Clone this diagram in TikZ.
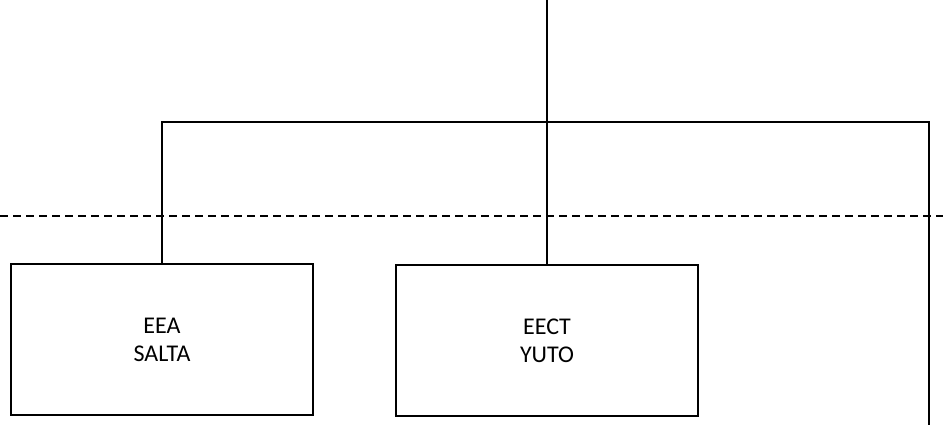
\documentclass[tikz,border=0pt]{standalone}
\usepackage{fontspec}
\setmainfont{Carlito}
\usetikzlibrary{positioning}

\tikzset{unitbox/.style={draw, minimum width=302pt, minimum height=151pt, align=center, inner sep=0pt}}

\begin{document}
\begin{tikzpicture}[x=1pt, y=-1pt, line width=1.4pt, font=\fontsize{24}{28}\selectfont]
	\useasboundingbox (0,0) rectangle (943,425);
	% the two units
	\node[unitbox] (salta) at (162,339.5) {EEA\\SALTA};
	\node[unitbox] (yuto) at (547,340.5) {EECT\\YUTO};
	% free ends of the lines
	\coordinate (top) at (547,0);
	\coordinate (busright) at (929,122);
	\coordinate (rightend) at (929,425);
	\coordinate (dashwest) at (0,216);
	\coordinate (dasheast) at (943,216);
	% connectors
	\draw (top) -- (yuto.north);
	\draw (salta.north) |- (busright) -- (rightend);
	\draw[line width=1.2pt, dash pattern=on 8pt off 5pt] (dashwest) -- (dasheast);
\end{tikzpicture}
\end{document}
